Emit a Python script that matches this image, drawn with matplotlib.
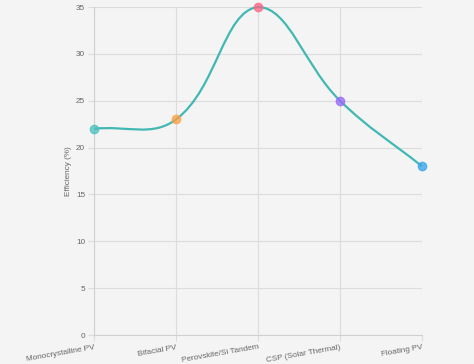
import matplotlib
matplotlib.use("Agg")
import matplotlib.pyplot as plt
from matplotlib.path import Path
from matplotlib.patches import PathPatch
import numpy as np

# chart data
categories = ["Monocrystalline PV", "Bifacial PV", "Perovskite/Si Tandem",
              "CSP (Solar Thermal)", "Floating PV"]
efficiency = [22, 23, 35, 25, 18]
point_colors = ["#4bc0c0", "#ff9f40", "#ff6384", "#9966ff", "#36a2eb"]
y_ticks = [0, 5, 10, 15, 20, 25, 30, 35]

line_color = "#42b8b2"
grid_color = "#dcdcdc"
text_color = "#666666"
bg = "#f4f4f4"
tension = 0.4

plt.rcParams["font.family"] = ["Liberation Sans", "DejaVu Sans"]

fig = plt.figure(figsize=(4.74, 3.64), dpi=100, facecolor=bg)
ax = fig.add_axes([94 / 474, 1 - 335 / 364, 328 / 474, 328 / 364])
ax.set_facecolor(bg)

x = np.arange(len(categories))
ax.set_xlim(0, len(categories) - 1)
ax.set_ylim(0, 35)


# Chart.js style bezier smoothing, done in pixel space
def spline_controls(pts, t):
    n = len(pts)
    cps = []
    for i in range(n):
        prev = pts[max(i - 1, 0)]
        cur = pts[i]
        nxt = pts[min(i + 1, n - 1)]
        d01 = np.hypot(*(cur - prev))
        d12 = np.hypot(*(nxt - cur))
        tot = d01 + d12
        s01 = d01 / tot if tot else 0
        s12 = d12 / tot if tot else 0
        cps.append((cur - t * s01 * (nxt - prev), cur + t * s12 * (nxt - prev)))
    return cps


trans = ax.transData
pix = trans.transform(np.column_stack([x, efficiency]))
cps = spline_controls(pix, tension)
bbox = ax.get_window_extent()


def cap(p):
    return np.array([min(max(p[0], bbox.x0), bbox.x1), min(max(p[1], bbox.y0), bbox.y1)])


verts = [pix[0]]
codes = [Path.MOVETO]
for i in range(len(pix) - 1):
    verts += [cap(cps[i][1]), cap(cps[i + 1][0]), pix[i + 1]]
    codes += [Path.CURVE4] * 3
verts = trans.inverted().transform(np.array(verts))
ax.add_patch(PathPatch(Path(verts, codes), facecolor="none", edgecolor=line_color,
                       lw=1.6, zorder=3, clip_on=False))

for xi, yi, c in zip(x, efficiency, point_colors):
    ax.plot(xi, yi, "o", ms=6, mfc=c, mec=c, alpha=0.75, mew=1, zorder=4, clip_on=False)

ax.set_xticks(x)
ax.set_xticklabels(categories, rotation=10, ha="right", rotation_mode="anchor")
ax.set_yticks(y_ticks)
ax.tick_params(axis="both", colors=grid_color, labelcolor=text_color, labelsize=5.9,
               length=4.3, width=0.8, pad=2)
ax.grid(True, color=grid_color, lw=0.8)
for s in ["top", "right"]:
    ax.spines[s].set_visible(False)
for s in ["left", "bottom"]:
    ax.spines[s].set_color("#d0d0d0")
    ax.spines[s].set_linewidth(0.8)
ax.set_ylabel("Efficiency (%)", fontsize=5.9, color=text_color, labelpad=3)

fig.savefig("out.png", dpi=100, facecolor=bg)
